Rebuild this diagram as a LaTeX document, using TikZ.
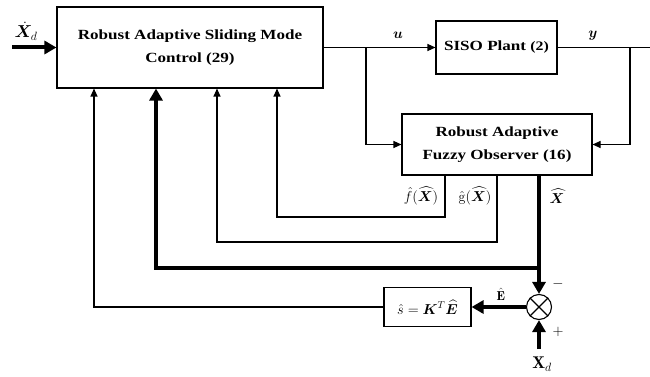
\documentclass[tikz,border=0pt]{standalone}
\usepackage{amsmath,bm}
\usepackage{fontspec}
\newfontfamily\lbl[FakeStretch=1.22]{Liberation Serif}
\usetikzlibrary{arrows.meta,shapes.geometric}
\begin{document}
\begin{tikzpicture}[x=1pt,y=-1pt,
  box/.style={draw,line width=1.1pt,inner sep=0pt,align=center,
    font=\lbl\bfseries\fontsize{14}{23}\selectfont},
  thinln/.style={line width=1.1pt},
  tarr/.style={line width=1.1pt,-{Triangle[length=8pt,width=7pt]}},
  harr/.style={line width=4pt,-{Triangle[length=12pt,width=13pt]}},
  heavy/.style={line width=4pt},
  mlab/.style={inner sep=0pt,font=\fontsize{14}{17}\selectfont}]
\useasboundingbox (0,0) rectangle (650,377);

\node[box,minimum width=266pt,minimum height=81pt] (ctrl) at (190,47.5) {Robust Adaptive Sliding Mode\\Control (29)};
\node[box,minimum width=121pt,minimum height=53pt] (plant) at (496.5,47.5) {SISO Plant {\fontsize{13}{14}\selectfont (2)}};
\node[box,minimum width=190pt,minimum height=61pt] (obs) at (497,144.5) {Robust Adaptive\\Fuzzy Observer (16)};
\node[box,minimum width=87pt,minimum height=39pt,font=\fontsize{14}{17}\selectfont] (sbox) at (427.5,307) {$\hat{s}=\bm{K}^{T}\widehat{\bm{E}}$};
\node[draw,circle,line width=1.1pt,minimum size=25pt,inner sep=0pt] (sum) at (539,307) {};
\draw[thinln] (sum.north west) -- (sum.south east) (sum.north east) -- (sum.south west);

% input
\coordinate (in) at (12,47.5);
\draw[harr] (in) -- (ctrl.west);
\node[mlab,font=\fontsize{17}{20}\selectfont] (xdd) at (26,31) {$\dot{\bm{X}}_{d}$};

% u and y
\coordinate (ub) at (366,47.5);
\coordinate (yb) at (630,47.5);
\coordinate (yend) at (650,47.5);
\draw[tarr] (ctrl.east) -- (plant.west);
\draw[thinln] (plant.east) -- (yend);
\draw[tarr] (ub) |- (obs.west);
\draw[tarr] (yb) |- (obs.east);
\node[mlab,font=\fontsize{15}{17}\selectfont] (ul) at (398,35) {$\bm{u}$};
\node[mlab,font=\fontsize{15}{17}\selectfont] (yl) at (593,36) {$\bm{y}$};

% fhat, ghat
\coordinate (f1) at (445,217);
\coordinate (f2) at (277,217);
\draw[tarr] (obs.south -| f1) -- (f1) -- (f2) -- (f2 |- ctrl.south);
\coordinate (g1) at (497,242);
\coordinate (g2) at (217,242);
\draw[tarr] (obs.south -| g1) -- (g1) -- (g2) -- (g2 |- ctrl.south);
\node[mlab] (fl) at (421,196) {$\hat{f}(\widehat{\bm{X}})$};
\node[mlab] (gl) at (475,196) {$\hat{\mathrm{g}}(\widehat{\bm{X}})$};

% Xhat
\coordinate (h1) at (539,268);
\coordinate (h2) at (156,268);
\draw[heavy] (obs.south -| h1) -- (h1);
\draw[harr] (h1) -- (h2) -- (h2 |- ctrl.south);
\draw[harr] (h1) -- (sum.north);
\node[mlab,font=\fontsize{15}{17}\selectfont] (xhl) at (557,196) {$\widehat{\bm{X}}$};

% error
\draw[harr] (sum.west) -- (sbox.east);
\node[mlab,font=\fontsize{13}{15}\selectfont] (el) at (501,294) {$\hat{\mathbf{E}}$};
\node[mlab,font=\fontsize{15}{17}\selectfont] (minus) at (558,284) {$-$};
\node[mlab,font=\fontsize{15}{17}\selectfont] (plus) at (558,332) {$+$};
\coordinate (xd) at (539,349);
\draw[harr] (xd) -- (sum.south);
\node[mlab,font=\fontsize{17}{20}\selectfont] (xdl) at (542,364) {$\mathbf{X}_{d}$};

% s to controller
\coordinate (s1) at (94,307);
\draw[tarr] (sbox.west) -- (s1) -- (s1 |- ctrl.south);
\end{tikzpicture}
\end{document}
